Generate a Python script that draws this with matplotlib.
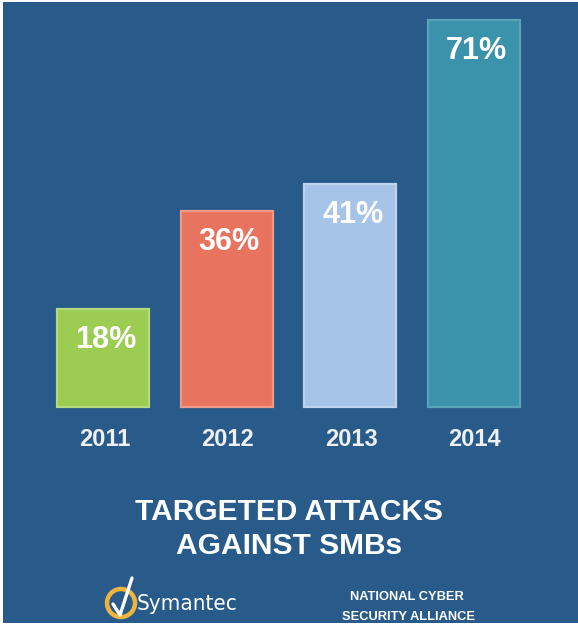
import matplotlib
matplotlib.use("Agg")
import matplotlib.pyplot as plt
from matplotlib.patches import Rectangle, Ellipse

plt.rcParams['font.family'] = ['Liberation Sans', 'DejaVu Sans']

years = ['2011', '2012', '2013', '2014']
shares = [18, 36, 41, 71]
bar_colors = ['#9ccd52', '#e8735f', '#a6c4e8', '#3a93aa']
edge_colors = ['#b4d97f', '#ee9a8a', '#bcd3ef', '#5aa4ba']
title_lines = ['TARGETED ATTACKS', 'AGAINST SMBs']
logo_text = 'Symantec'
ncsa_lines = ['NATIONAL CYBER', 'SECURITY ALLIANCE']

W, H = 578, 626
BG = '#285a8a'

fig = plt.figure(figsize=(W / 100, H / 100), dpi=100)
fig.patch.set_facecolor('white')
fig.patches.append(Rectangle((3 / W, 3 / H), 1 - 3 / W, 1 - 5 / H,
                             transform=fig.transFigure, facecolor=BG,
                             edgecolor='none', zorder=-5))

# bar axes spans the whole figure; limits chosen so bars land where they sit
x0, step, base, scale = 103, 123.5, 407, 5.45
ax = fig.add_axes([0, 0, 1, 1])
ax.set_facecolor('none')
ax.set_xlim(-x0 / step, (W - x0) / step)
ax.set_ylim(-(H - base) / scale, base / scale)
ax.axis('off')

pos = list(range(len(years)))
ax.bar(pos, shares, width=92 / step, color=bar_colors,
       edgecolor=edge_colors, linewidth=1.6)

for i, v in enumerate(shares):
    ax.annotate(f'{v}%', xy=(i, v), xytext=(2, -31 * 0.72),
                textcoords='offset points', ha='center', va='center',
                color='white', fontsize=22, fontweight='bold')
    ax.annotate(years[i], xy=(i, 0), xytext=(1, -32 * 0.72),
                textcoords='offset points', ha='center', va='center',
                color='#eef0f2', fontsize=17, fontweight='bold')

fig.text(0.5, 1 - 512 / H, title_lines[0], ha='center', va='center',
         color='white', fontsize=21.5, fontweight='bold')
fig.text(0.5, 1 - 546 / H, title_lines[1], ha='center', va='center',
         color='white', fontsize=21.5, fontweight='bold')

# logo and footer in pixel space
deco = fig.add_axes([0, 0, 1, 1])
deco.set_facecolor('none')
deco.set_xlim(0, W)
deco.set_ylim(H, 0)
deco.axis('off')
deco.add_patch(Ellipse((121, 603), 28, 28, facecolor='none',
                       edgecolor='#f0b43a', linewidth=3.2))
deco.plot([113, 120, 132], [604, 615, 578], color='white', linewidth=2.4,
          solid_capstyle='round', solid_joinstyle='round')
deco.text(137, 604, logo_text, ha='left', va='center', color='white',
          fontsize=16, family='DejaVu Sans', stretch='condensed')
deco.text(407, 597, ncsa_lines[0], ha='center', va='center', color='white',
          fontsize=9.3, fontweight='bold')
deco.text(408, 617, ncsa_lines[1], ha='center', va='center', color='white',
          fontsize=9.3, fontweight='bold')

fig.savefig('out.png', dpi=100, facecolor=fig.get_facecolor())
